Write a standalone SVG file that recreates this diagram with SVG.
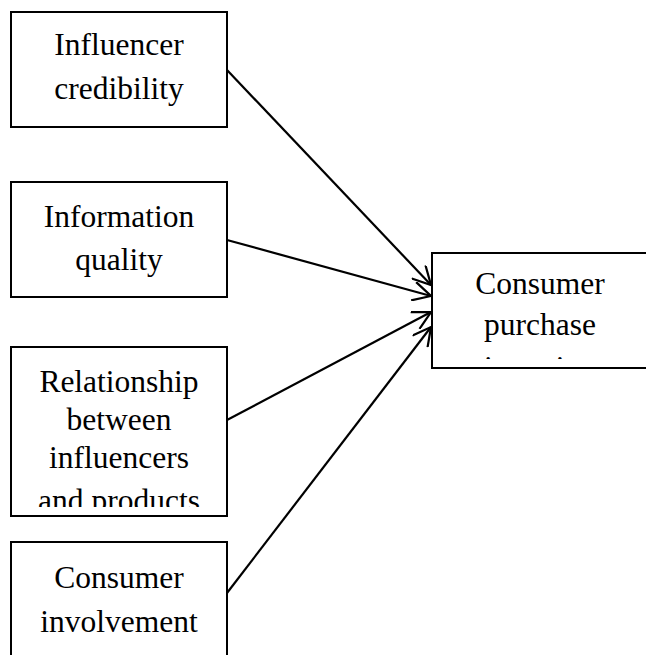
<svg xmlns="http://www.w3.org/2000/svg" width="646" height="655" viewBox="0 0 646 655">
<style>
.box{fill:#fff;stroke:#000;stroke-width:2}
.t{font-family:"Liberation Serif","Times New Roman",serif;font-size:31.5px;fill:#000;text-anchor:middle}
.c{fill:none;stroke:#000;stroke-width:2.2}
</style>
<defs>
<marker id="ah" markerUnits="userSpaceOnUse" viewBox="0 0 22 20" markerWidth="22" markerHeight="20" refX="20" refY="10" orient="auto">
<path d="M2,0.5 L20,10 L2,19.5" fill="none" stroke="#000" stroke-width="2.2"/>
</marker>
<clipPath id="clip3"><rect x="12" y="348" width="214" height="159"/></clipPath>
<clipPath id="clip5"><rect x="433" y="254" width="214" height="105"/></clipPath>
</defs>
<rect width="646" height="655" fill="#fff"/>
<g id="n1">
<rect class="box" x="11" y="12" width="216" height="115"/>
<text class="t" x="119" y="55">Influencer</text>
<text class="t" x="119" y="99">credibility</text>
</g>
<g id="n2">
<rect class="box" x="11" y="182" width="216" height="115"/>
<text class="t" x="119" y="226.5">Information</text>
<text class="t" x="119" y="270">quality</text>
</g>
<g id="n3">
<rect class="box" x="11" y="347" width="216" height="169"/>
<g clip-path="url(#clip3)">
<text class="t" x="119" y="391.5">Relationship</text>
<text class="t" x="119" y="429.5">between</text>
<text class="t" x="119" y="467.5">influencers</text>
<text class="t" x="119" y="511">and products</text>
</g>
</g>
<g id="n4">
<rect class="box" x="11" y="542" width="216" height="125"/>
<text class="t" x="119" y="588">Consumer</text>
<text class="t" x="119" y="632">involvement</text>
</g>
<g id="n5">
<rect class="box" x="432" y="253" width="216" height="115"/>
<g clip-path="url(#clip5)">
<text class="t" x="540" y="293.5">Consumer</text>
<text class="t" x="540" y="335">purchase</text>
<text class="t" x="540" y="377.5">intention</text>
</g>
</g>
<g id="connectors">
<line class="c" x1="227" y1="70" x2="431" y2="285" marker-end="url(#ah)"/>
<line class="c" x1="227" y1="240" x2="431" y2="296" marker-end="url(#ah)"/>
<line class="c" x1="227" y1="420" x2="431" y2="312" marker-end="url(#ah)"/>
<line class="c" x1="227" y1="593" x2="431" y2="327" marker-end="url(#ah)"/>
</g>
</svg>
